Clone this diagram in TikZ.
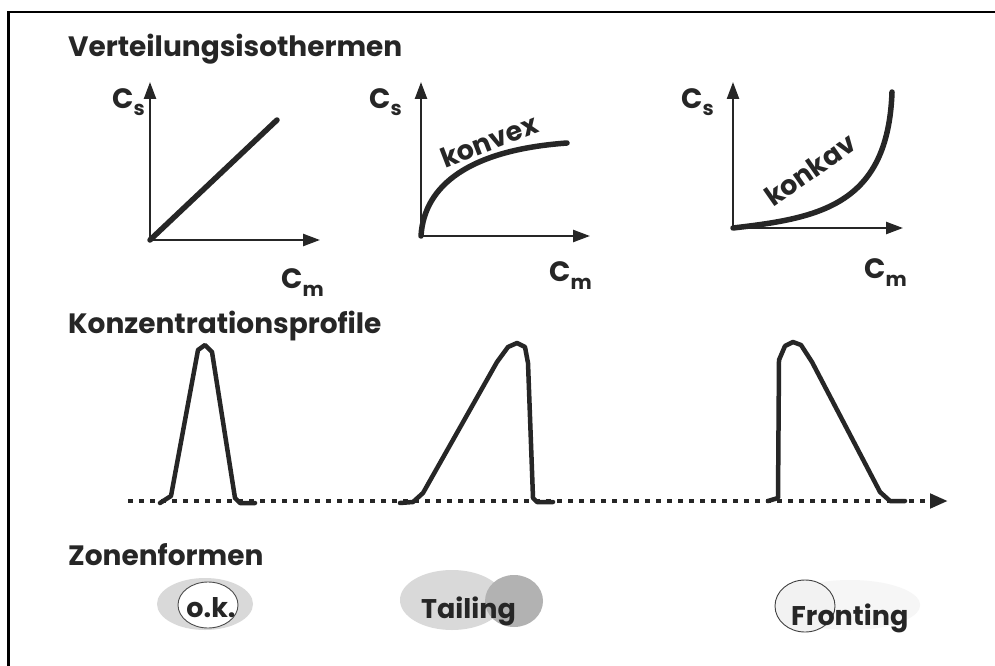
\documentclass[tikz,border=0pt]{standalone}
\usepackage{fontspec}
\setmainfont{Poppins}
\usetikzlibrary{arrows.meta}
\newcommand{\sublbl}[3]{#1\raisebox{-#3}{\fontsize{20}{22}\selectfont #2}}
\tikzset{
  head/.style={anchor=base west, inner sep=0pt, font=\fontsize{28}{31}\selectfont\bfseries, text=black!85},
  axlbl/.style={anchor=base west, inner sep=0pt, font=\fontsize{28}{31}\selectfont\bfseries, text=black!85},
  axis/.style={line width=2.4pt, black!85, -{Triangle[length=17pt,width=12pt]}},
  curve/.style={line width=5.5pt, black!85, line cap=round},
  peak/.style={line width=4.5pt, black!85, line join=round, line cap=round},
  zone/.style={anchor=base west, inner sep=0pt, font=\fontsize{27}{30}\selectfont\bfseries, text=black!85},
  curvelbl/.style={inner sep=0pt, font=\fontsize{27}{30}\selectfont\bfseries, text=black!85},
}
\begin{document}
\begin{tikzpicture}[x=1pt,y=-1pt]
\useasboundingbox (0,0) rectangle (995,666);
\fill[white] (0,0) rectangle (995,666);
% frame
\draw[line width=2.5pt] (8.5,680) -- (8.5,12) -- (1010,12);

% headings
\node[head] (h1) at (68,57) {Verteilungsisothermen};
\node[head] (h2) at (68,333) {Konzentrationsprofile};
\node[head] (h3) at (68,565) {Zonenformen};

% graph 1
\coordinate (o1) at (150,240);
\coordinate (y1) at (150,82);
\coordinate (x1) at (320,240);
\coordinate (e1) at (277,120);
\draw[axis] (o1) -- (y1);
\draw[axis] (o1) -- (x1);
\draw[curve] (o1) -- (e1);
\node[axlbl] (cs1) at (112,109) {\sublbl{C}{s}{7pt}};
\node[axlbl] (cm1) at (281,288) {\sublbl{C}{m}{8pt}};

% graph 2
\coordinate (o2) at (421,236);
\coordinate (y2) at (421,82);
\coordinate (x2) at (590,236);
\coordinate (e2) at (567,143);
\draw[axis] (o2) -- (y2);
\draw[axis] (o2) -- (x2);
\draw[curve] (o2) .. controls (424,185) and (470,150) .. (e2);
\node[axlbl] (cs2) at (369,109) {\sublbl{C}{s}{7pt}};
\node[axlbl] (cm2) at (549,281) {\sublbl{C}{m}{8pt}};
\node[curvelbl, rotate=21] (kv) at (489,141) {konvex};

% graph 3
\coordinate (o3) at (733,228);
\coordinate (y3) at (733,82);
\coordinate (x3) at (903,228);
\coordinate (e3) at (892,92);
\draw[axis] (o3) -- (y3);
\draw[axis] (o3) -- (x3);
\draw[curve] (o3) .. controls (820,218) and (888,205) .. (e3);
\node[axlbl] (cs3) at (681,109) {\sublbl{C}{s}{7pt}};
\node[axlbl] (cm3) at (864,278) {\sublbl{C}{m}{8pt}};
\node[curvelbl, rotate=35] (kk) at (810,170) {konkav};

% concentration profiles
\coordinate (b0) at (128,501);
\coordinate (b1) at (948,501);
\draw[line width=4.5pt, black!85, dash pattern=on 5pt off 6pt, -{Triangle[length=18pt,width=14pt]}] (b0) -- (b1);
\draw[peak] (160,503) -- (171,496) -- (198,350) -- (205,345) -- (212,352) -- (235,498) -- (240,503) -- (255,503);
\draw[peak] (400,503) -- (413,502) -- (423,493) -- (497,362) -- (508,347) -- (517,343) -- (525,347) -- (528,363) -- (533,498) -- (537,502) -- (553,502);
\draw[peak] (768,501) -- (778,498) -- (779,360) -- (785,346) -- (793,342) -- (801,345) -- (812,362) -- (880,492) -- (890,501) -- (905,501);

% zones
\fill[gray!30] (205,604) ellipse [x radius=48, y radius=26];
\draw[black!70, line width=0.9pt, fill=white] (208,605) ellipse [x radius=30, y radius=23];
\node[zone, anchor=base] (ok) at (211,617) {o.k.};

\fill[gray!30] (452,600) ellipse [x radius=52, y radius=30];
\fill[gray!60] (514,601) ellipse [x radius=29, y radius=26];
\node[zone] (tail) at (421,618) {Tailing};

\fill[gray!7] (850,605) ellipse [x radius=70, y radius=25];
\draw[black!75, line width=0.9pt, fill=gray!10] (805,606) ellipse [x radius=30, y radius=26];
\node[zone] (front) at (791,625) {Fronting};
\end{tikzpicture}
\end{document}
